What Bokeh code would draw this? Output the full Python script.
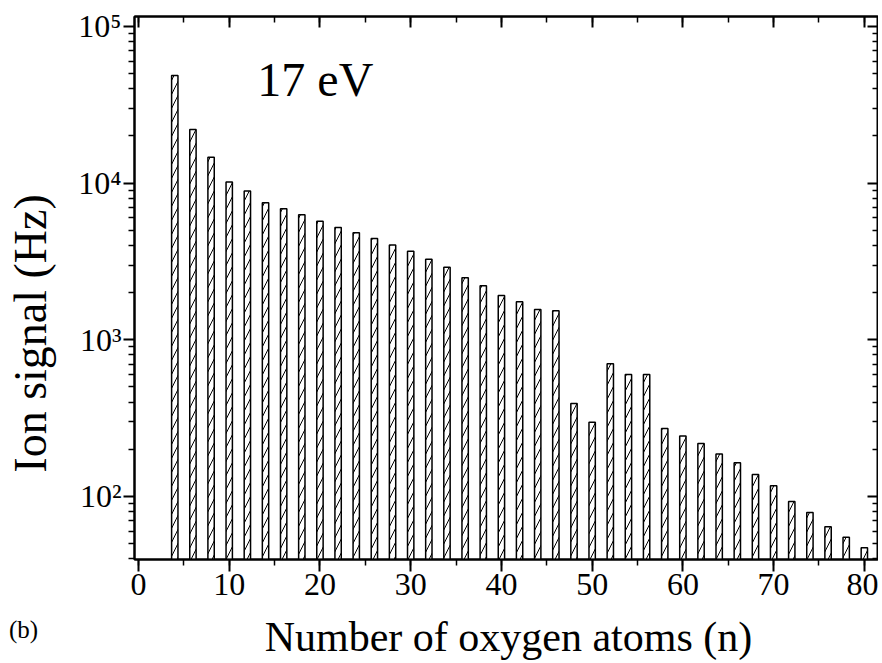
from bokeh.plotting import figure
from bokeh.layouts import row, column
from bokeh.models import (Range1d, LinearAxis, LogAxis, SingleIntervalTicker,
                          FixedTicker, CustomJSTickFormatter, Label)
from bokeh.core.properties import value
from bokeh.embed import file_html
from bokeh.resources import INLINE

# ---- data ----
n_atoms = [4, 6, 8, 10, 12, 14, 16, 18, 20, 22, 24, 26, 28, 30, 32, 34, 36, 38, 40,
           42, 44, 46, 48, 50, 52, 54, 56, 58, 60, 62, 64, 66, 68, 70, 72, 74, 76, 78, 80]
ion_signal = [48600, 22000, 14650, 10170, 8910, 7500, 6860, 6280, 5720, 5210, 4820,
              4440, 4030, 3680, 3270, 2900, 2490, 2210, 1920, 1750, 1560, 1530,
              392, 298, 703, 601, 601, 272, 243, 218, 187, 164, 138, 117, 93,
              79, 64, 55, 47]
x_tick_interval = 10
y_major = [1e2, 1e3, 1e4, 1e5]
y_minor = [m * 10 ** e for e in range(1, 5) for m in range(2, 10) if m * 10 ** e > 39]

x_title = "Number of oxygen atoms (n)"
y_title = "Ion signal (Hz)"
panel_tag = "(b)"
energy_tag = "17 eV"

FONT = "Liberation Serif"

x0, x1 = -0.44, 81.56
y0, y1 = 39.6, 1.158e5

LEFT_W = 60
MAIN_W = 818
TOP_H = 611
BOT_H = 50

p = figure(width=MAIN_W, height=TOP_H, output_backend="svg",
           toolbar_location=None, y_axis_type="log",
           x_range=Range1d(x0, x1), y_range=Range1d(y0, y1),
           min_border_left=74, min_border_right=0, min_border_top=16,
           min_border_bottom=52)
p.xgrid.visible = False
p.ygrid.visible = False
p.outline_line_color = "black"
p.outline_line_width = 2
p.background_fill_color = "white"
p.border_fill_color = "white"

p.vbar(x=n_atoms, top=ion_signal, bottom=1, width=0.7,
       fill_color="white", line_color="black", line_width=1.5,
       hatch_pattern="/", hatch_color="black", hatch_scale=14, hatch_weight=1)

log_fmt = CustomJSTickFormatter(code="""
const s = {2: '\\u00b2', 3: '\\u00b3', 4: '\\u2074', 5: '\\u2075'};
return '10' + s[Math.round(Math.log10(tick))];
""")
empty_fmt = CustomJSTickFormatter(code="return '';")


def style(ax, inside):
    ax.axis_line_width = 2
    ax.major_tick_line_width = 2
    ax.minor_tick_line_width = 1.5
    if inside:
        ax.major_tick_in, ax.major_tick_out = 11, 0
        ax.minor_tick_in, ax.minor_tick_out = 6, 0
        ax.formatter = empty_fmt
        ax.major_label_text_font_size = "1px"
        ax.major_label_standoff = 0
    else:
        ax.major_tick_in, ax.major_tick_out = 0, 11
        ax.minor_tick_in, ax.minor_tick_out = 0, 6
        ax.major_label_text_font = FONT
        ax.major_label_text_font_size = "32px"
        ax.major_label_text_color = "black"
        ax.major_label_standoff = 2


xb = p.xaxis[0]
xb.ticker = SingleIntervalTicker(interval=x_tick_interval, num_minor_ticks=2)
style(xb, False)
xb.major_tick_out = 12

yl = p.yaxis[0]
yl.ticker = FixedTicker(ticks=y_major, minor_ticks=y_minor)
style(yl, False)
yl.formatter = log_fmt

xt = LinearAxis(ticker=SingleIntervalTicker(interval=x_tick_interval, num_minor_ticks=2))
style(xt, True)
p.add_layout(xt, "above")

yr = LogAxis(ticker=FixedTicker(ticks=y_major, minor_ticks=y_minor))
style(yr, True)
p.add_layout(yr, "right")

p.add_layout(Label(x=13.1, y=45900, text=energy_tag, text_font=FONT,
                   text_font_size="48px", text_align="left",
                   text_baseline="alphabetic", text_color="black"))


def strip(w, h, xr, yr_, log=False):
    f = figure(width=w, height=h, output_backend="svg", toolbar_location=None,
               x_range=xr, y_range=yr_, y_axis_type="log" if log else "linear",
               x_axis_location=None, y_axis_location=None, min_border=0)
    f.xgrid.visible = False
    f.ygrid.visible = False
    f.outline_line_color = None
    f.background_fill_color = "white"
    f.border_fill_color = "white"
    return f


# left strip (its frame lines up with the main frame): rotated y title
fl = strip(LEFT_W, TOP_H, Range1d(0, LEFT_W), Range1d(y0, y1), log=True)
fl.text(x=[30], y=[1098], text=[y_title], angle=1.5708,
        text_font=value(FONT), text_font_size="46px", text_align="center",
        text_baseline="middle", text_color="black")

# bottom strip: x title and panel tag
W = LEFT_W + MAIN_W
fb = strip(W, BOT_H, Range1d(0, W), Range1d(0, BOT_H))
fb.text(x=[508], y=[BOT_H / 2], text=[x_title], text_font=value(FONT),
        text_font_size="42px", text_align="center", text_baseline="middle",
        text_color="black")
fb.text(x=[23], y=[32], text=[panel_tag], text_font=value(FONT),
        text_font_size="25px", text_align="center", text_baseline="middle",
        text_color="black")

layout = column(row(fl, p, spacing=0), fb, spacing=0)

open("out.html", "w").write(file_html(layout, INLINE))
